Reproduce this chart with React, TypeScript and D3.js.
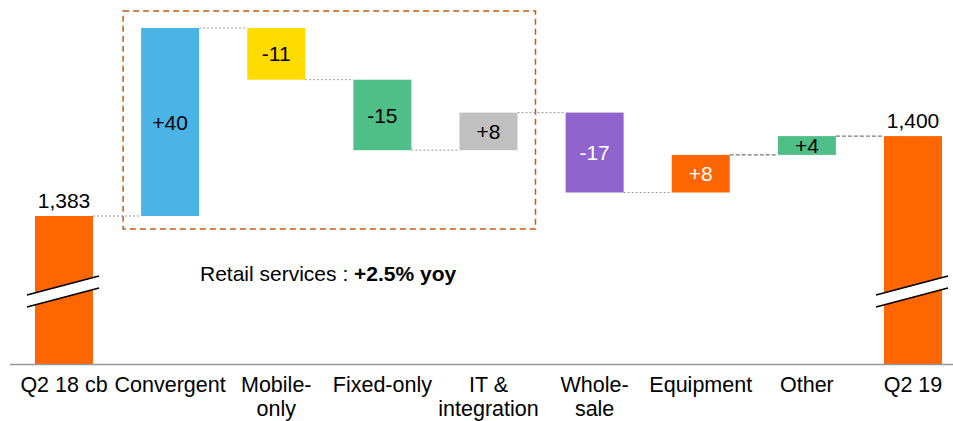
import React, { useEffect, useRef } from "react";
import * as d3 from "d3";

// chart data
const categoryLines = [
  ["Q2 18 cb"],
  ["Convergent"],
  ["Mobile-", "only"],
  ["Fixed-only"],
  ["IT &", "integration"],
  ["Whole-", "sale"],
  ["Equipment"],
  ["Other"],
  ["Q2 19"],
];
const startValue = 1383;
const endValue = 1400;
const deltas = [40, -11, -15, 8, -17, 8, 4];
const deltaLabels = ["+40", "-11", "-15", "+8", "-17", "+8", "+4"];
const totalLabels = ["1,383", "1,400"];
const barColors = ["#FF6600", "#4BB4E6", "#FFDC00", "#50BE87", "#C0C0C0", "#9164CD", "#FF6600", "#50BE87", "#FF6600"];
const labelColors = ["#000", "#000", "#000", "#000", "#000", "#fff", "#fff", "#000", "#000"];

const App = () => {
  const ref = useRef<SVGSVGElement>(null);

  useEffect(() => {
    const width = 953;
    const height = 421;
    const baseline = 364;
    const barW = 58;
    const font = "'Liberation Sans', Arial, Helvetica, sans-serif";

    const svg = d3.select(ref.current);
    svg.selectAll("*").remove();

    const x = d3
      .scalePoint<number>()
      .domain(d3.range(categoryLines.length))
      .range([64, 913]);

    const y = d3.scaleLinear().domain([1383, 1423]).range([216, 28]);

    // build waterfall steps
    const steps: { i: number; from: number; to: number; total: boolean }[] = [];
    steps.push({ i: 0, from: startValue, to: startValue, total: true });
    let run = startValue;
    deltas.forEach((d, k) => {
      steps.push({ i: k + 1, from: run, to: run + d, total: false });
      run += d;
    });
    steps.push({ i: 8, from: endValue, to: endValue, total: true });

    const top = (s) => (s.total ? y(s.to) : y(Math.max(s.from, s.to)));
    const bot = (s) => (s.total ? baseline : y(Math.min(s.from, s.to)));

    // dashed box around retail part
    svg
      .append("rect")
      .attr("x", x(1)! - barW / 2 - 18)
      .attr("y", y(1423) - 17)
      .attr("width", x(4)! - x(1)! + barW + 36)
      .attr("height", y(1383) - y(1423) + 30)
      .attr("fill", "none")
      .attr("stroke", "#C55A11")
      .attr("stroke-width", 1.5)
      .attr("stroke-dasharray", "6,4");

    // connectors
    steps.slice(0, -1).forEach((s, k) => {
      const dark = k >= 6;
      svg
        .append("line")
        .attr("x1", x(s.i)! + barW / 2)
        .attr("x2", x(s.i + 1)! - barW / 2)
        .attr("y1", y(s.to))
        .attr("y2", y(s.to))
        .attr("stroke", dark ? "#555" : "#999")
        .attr("stroke-width", 1)
        .attr("stroke-dasharray", dark ? "4,2" : "2,2");
    });

    // bars
    svg
      .append("g")
      .selectAll("rect")
      .data(steps)
      .join("rect")
      .attr("x", (s) => x(s.i)! - barW / 2)
      .attr("y", (s) => top(s))
      .attr("width", barW)
      .attr("height", (s) => bot(s) - top(s))
      .attr("fill", (s) => barColors[s.i]);

    // axis break marks on the total bars
    [0, 8].forEach((i) => {
      const cx = x(i)!;
      const x1 = cx - 37;
      const x2 = cx + 35;
      const yt1 = 295, yt2 = 276, gap = 12;
      svg
        .append("polygon")
        .attr("points", `${x1},${yt1} ${x2},${yt2} ${x2},${yt2 + gap} ${x1},${yt1 + gap}`)
        .attr("fill", "#fff");
      [0, gap].forEach((o) => {
        svg
          .append("line")
          .attr("x1", x1)
          .attr("y1", yt1 + o)
          .attr("x2", x2)
          .attr("y2", yt2 + o)
          .attr("stroke", "#000")
          .attr("stroke-width", 1.6);
      });
    });

    // baseline
    svg
      .append("line")
      .attr("x1", 10)
      .attr("x2", width)
      .attr("y1", baseline + 0.5)
      .attr("y2", baseline + 0.5)
      .attr("stroke", "#999")
      .attr("stroke-width", 1.5);

    // delta labels inside bars
    svg
      .append("g")
      .selectAll("text")
      .data(steps.filter((s) => !s.total))
      .join("text")
      .attr("x", (s) => x(s.i)!)
      .attr("y", (s) => (top(s) + bot(s)) / 2)
      .attr("dy", "0.36em")
      .attr("text-anchor", "middle")
      .attr("font-family", font)
      .attr("font-size", 21)
      .attr("fill", (s) => labelColors[s.i])
      .text((s) => deltaLabels[s.i - 1]);

    // total labels
    [steps[0], steps[8]].forEach((s, k) => {
      svg
        .append("text")
        .attr("x", x(s.i)!)
        .attr("y", y(s.to) - 8)
        .attr("text-anchor", "middle")
        .attr("font-family", font)
        .attr("font-size", 21)
        .attr("fill", "#000")
        .text(totalLabels[k]);
    });

    // category labels
    const cat = svg
      .append("g")
      .selectAll("text")
      .data(categoryLines)
      .join("text")
      .attr("x", (_, i) => x(i)!)
      .attr("y", 392)
      .attr("text-anchor", "middle")
      .attr("font-family", font)
      .attr("font-size", 21.5)
      .attr("fill", "#000");
    cat
      .selectAll("tspan")
      .data((d) => d)
      .join("tspan")
      .attr("x", function () {
        return (this.parentNode as SVGTextElement).getAttribute("x");
      })
      .attr("dy", (_, j) => (j === 0 ? 0 : 24))
      .text((d) => d);

    // annotation
    const note = svg
      .append("text")
      .attr("x", 200)
      .attr("y", 281)
      .attr("font-family", font)
      .attr("font-size", 21)
      .attr("fill", "#000");
    note.append("tspan").text("Retail services : ");
    note.append("tspan").attr("font-weight", "bold").text("+2.5% yoy");

    svg.attr("width", width).attr("height", height);
  }, []);

  return (
    <svg
      ref={ref}
      width={953}
      height={421}
      style={{ position: "absolute", left: 0, top: 0, background: "#fff" }}
    />
  );
};

export default App;
